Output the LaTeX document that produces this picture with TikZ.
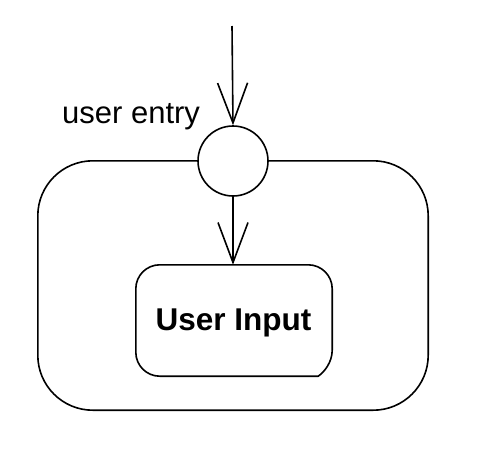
\documentclass[tikz,border=0pt]{standalone}
\usepackage{fontspec}
\setmainfont{Liberation Sans}
\usetikzlibrary{arrows.meta}
\begin{document}
\begin{tikzpicture}[x=1pt,y=-1pt,
  line/.style={line width=1.6pt,black},
  vee/.style={-{Straight Barb[length=40pt,width=30pt,line width=1.6pt]}},
  lbl/.style={font=\fontsize{31}{37}\selectfont,inner sep=0pt}]
\useasboundingbox (0,0) rectangle (481,461);
% outer state
\node[draw=none,minimum width=390pt,minimum height=249pt,inner sep=0pt] (outer) at (233,285.5) {};
\draw[line,rounded corners=55pt] (outer.south west) rectangle (outer.north east);
% entry point
\node[line,draw,circle,fill=white,minimum size=70pt,inner sep=0pt] (entry) at (233,161) {};
\coordinate (start) at (232,26);
\draw[line,vee] (start) -- (entry.north);
\node[lbl,anchor=base west] (entrylbl) at (62,123) {user entry};
% inner state
\node[draw=none,minimum width=196pt,minimum height=111pt,inner sep=0pt] (input) at (234,320.5) {};
\draw[line] ([xshift=24pt]input.north west) -- ([xshift=-24pt]input.north east)
  arc[start angle=90,end angle=0,radius=24pt] -- ([yshift=26pt]input.south east)
  .. controls ([yshift=14pt]input.south east) and ([xshift=-8pt,yshift=4pt]input.south east) .. ([xshift=-14pt]input.south east)
  -- ([xshift=24pt]input.south west) arc[start angle=270,end angle=180,radius=24pt]
  -- ([yshift=-24pt]input.north west) arc[start angle=180,end angle=90,radius=24pt] -- cycle;
\node[font=\bfseries\fontsize{31.5}{37}\selectfont,inner sep=0pt,anchor=base] (inputlbl) at (233.5,330) {User Input};
\draw[line,vee] (entry.south) -- (input.north -| entry.south);
\end{tikzpicture}
\end{document}
